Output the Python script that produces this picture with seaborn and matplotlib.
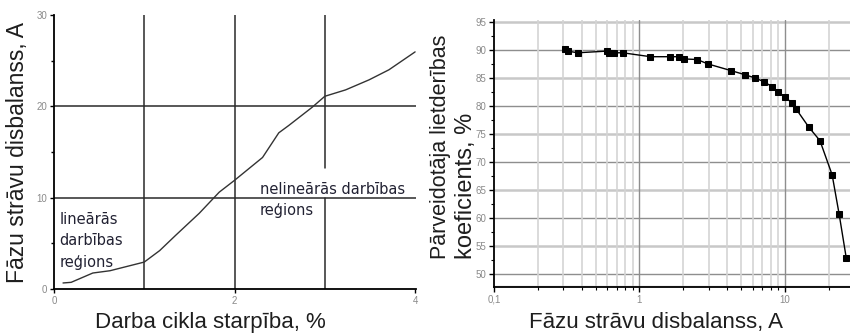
import matplotlib
matplotlib.use("Agg")
import matplotlib.pyplot as plt
from matplotlib.ticker import FixedLocator, FixedFormatter, NullFormatter
import seaborn as sns

# Left panel: phase current imbalance vs. duty cycle difference
duty_diff = [0.10, 0.19, 0.43, 0.62, 1.00, 1.17, 1.35, 1.61, 1.83, 2.00,
             2.31, 2.49, 2.60, 2.86, 3.00, 3.23, 3.49, 3.71, 4.00]
imbalance = [0.66, 0.73, 1.75, 2.0, 2.95, 4.2, 5.9, 8.3, 10.6, 11.9,
             14.4, 17.1, 17.9, 19.9, 21.1, 21.8, 22.9, 24.0, 25.96]

# Right panel: converter efficiency vs. phase current imbalance
current_imb = [0.308, 0.321, 0.376, 0.599, 0.62, 0.672, 0.768, 1.19, 1.61,
               1.88, 2.02, 2.49, 2.96, 4.28, 5.28, 6.24, 7.2, 8.2, 9.0,
               10.0, 11.1, 11.9, 14.6, 17.4, 21.1, 23.6, 26.4]
efficiency = [90.2, 89.8, 89.5, 89.8, 89.5, 89.5, 89.5, 88.8, 88.8,
              88.8, 88.4, 88.3, 87.5, 86.3, 85.6, 85.0, 84.3, 83.4, 82.5,
              81.6, 80.6, 79.5, 76.2, 73.8, 67.7, 60.6, 52.8]

left_xticks = [0, 2, 4]
left_yticks = [0, 10, 20, 30]
right_yticks = [50, 55, 60, 65, 70, 75, 80, 85, 90, 95]
right_xticks = [0.1, 1, 10]
right_xticklabels = ["0,1", "1", "10"]

left_ylabel = "Fāzu strāvu disbalanss, A"
left_xlabel = "Darba cikla starpība, %"
right_ylabel_1 = "Pārveidotāja lietderības"
right_ylabel_2 = "koeficients, %"
right_xlabel = "Fāzu strāvu disbalanss, A"
linear_note = "lineārās\ndarbības\nreģions"
nonlinear_note = "nelineārās darbības\nreģions"

sns.set_theme(style="ticks")
plt.rcParams['font.family'] = ['Liberation Sans', 'DejaVu Sans']

W, H = 850, 333
fig = plt.figure(figsize=(W / 100, H / 100), dpi=100)
fig.patch.set_facecolor("white")

tick_grey = "#8a8a8a"
label_col = "#1e1e1e"
note_font = ["DejaVu Sans"]

# ---------------- left panel ----------------
ax1 = fig.add_axes([54 / W, 44 / H, 362 / W, 274 / H])
ax1.set_facecolor("white")
ax1.set_xlim(0, 4.01)
ax1.set_ylim(0, 30)

grid_kw = dict(color="#2a2a2a", lw=1.1, zorder=1)
ax1.axvline(1, **grid_kw)
ax1.axvline(2, **grid_kw)
ax1.plot([3, 3], [0, 10], **grid_kw)
ax1.plot([3, 3], [13.2, 30], **grid_kw)
ax1.axhline(10, **grid_kw)
ax1.axhline(20, **grid_kw)

sns.lineplot(x=duty_diff, y=imbalance, ax=ax1, color="#333333", lw=1.0,
             sort=False, estimator=None, zorder=3)

ax1.text(0.06, 8.45, linear_note, fontsize=10.5, family=note_font,
         color="#222233", va="top", ha="left", linespacing=1.55)
ax1.text(2.28, 11.75, nonlinear_note, fontsize=10.5, family=note_font,
         color="#222233", va="top", ha="left", linespacing=1.55)

ax1.xaxis.set_major_locator(FixedLocator(left_xticks))
ax1.yaxis.set_major_locator(FixedLocator(left_yticks))
ax1.yaxis.set_minor_locator(FixedLocator([5, 15, 25]))
ax1.tick_params(axis="both", which="major", direction="out", length=3, width=1,
                color="black", labelsize=7, labelcolor=tick_grey, pad=2)
ax1.tick_params(axis="y", which="minor", direction="out", length=2, width=1,
                color="black")
for s in ["top", "right"]:
    ax1.spines[s].set_visible(False)
for s in ["left", "bottom"]:
    ax1.spines[s].set_color("black")
    ax1.spines[s].set_linewidth(1.3)

# ---------------- right panel ----------------
ax2 = fig.add_axes([494 / W, 46 / H, 356 / W, 267 / H])
ax2.set_facecolor("white")
ax2.set_xscale("log")
ax2.set_xlim(0.1, 28)
ax2.set_ylim(47.64, 95.36)

for y in [50, 60, 70, 80, 90]:
    ax2.axhline(y, color="#8e8e8e", lw=1.0, zorder=1)
for y in [55, 65, 75, 85, 95]:
    ax2.axhline(y, color="#c8c8c8", lw=1.8, zorder=1)
ax2.axhline(47.8, color="#c8c8c8", lw=1.0, zorder=1)
minor_x = [m * d for d in (0.1, 1, 10) for m in range(2, 10) if m * d <= 28]
for x in minor_x:
    ax2.axvline(x, color="#d4d4d4", lw=1.2, zorder=1)
for x in [1, 10]:
    ax2.axvline(x, color="#8e8e8e", lw=1.0, zorder=1)

sns.lineplot(x=current_imb, y=efficiency, ax=ax2, color="black", lw=1.0,
             marker="s", markersize=4.5, markeredgecolor="black",
             markerfacecolor="black", sort=False, estimator=None, zorder=3)

ax2.xaxis.set_major_locator(FixedLocator(right_xticks))
ax2.xaxis.set_major_formatter(FixedFormatter(right_xticklabels))
ax2.xaxis.set_minor_locator(FixedLocator(minor_x))
ax2.xaxis.set_minor_formatter(NullFormatter())
ax2.yaxis.set_major_locator(FixedLocator(right_yticks))
ax2.yaxis.set_minor_locator(FixedLocator([y + 2.5 for y in right_yticks[:-1]]))
ax2.tick_params(axis="both", which="major", direction="out", length=3.5, width=1,
                color="black", labelsize=7, labelcolor=tick_grey, pad=2)
ax2.tick_params(axis="both", which="minor", direction="out", length=2, width=0.8,
                color="black")
for s in ["top", "right"]:
    ax2.spines[s].set_visible(False)
for s in ["left", "bottom"]:
    ax2.spines[s].set_color("black")
    ax2.spines[s].set_linewidth(1.3)

# ---------------- axis titles ----------------
fig.text(18 / W, 1 - 283 / H, left_ylabel, rotation=90, ha="center", va="bottom",
         fontsize=16.5, color=label_col)
fig.text(210 / W, 1 - 312 / H, left_xlabel, ha="center", va="top",
         fontsize=16, color=label_col)
fig.text(440 / W, 1 - 259 / H, right_ylabel_1, rotation=90, ha="center",
         va="bottom", fontsize=15.5, color=label_col)
fig.text(466 / W, 1 - 259 / H, right_ylabel_2, rotation=90, ha="center",
         va="bottom", fontsize=17, color=label_col)
fig.text(656 / W, 1 - 312 / H, right_xlabel, ha="center", va="top",
         fontsize=16, color=label_col)

fig.savefig("out.png", dpi=100, facecolor="white")
